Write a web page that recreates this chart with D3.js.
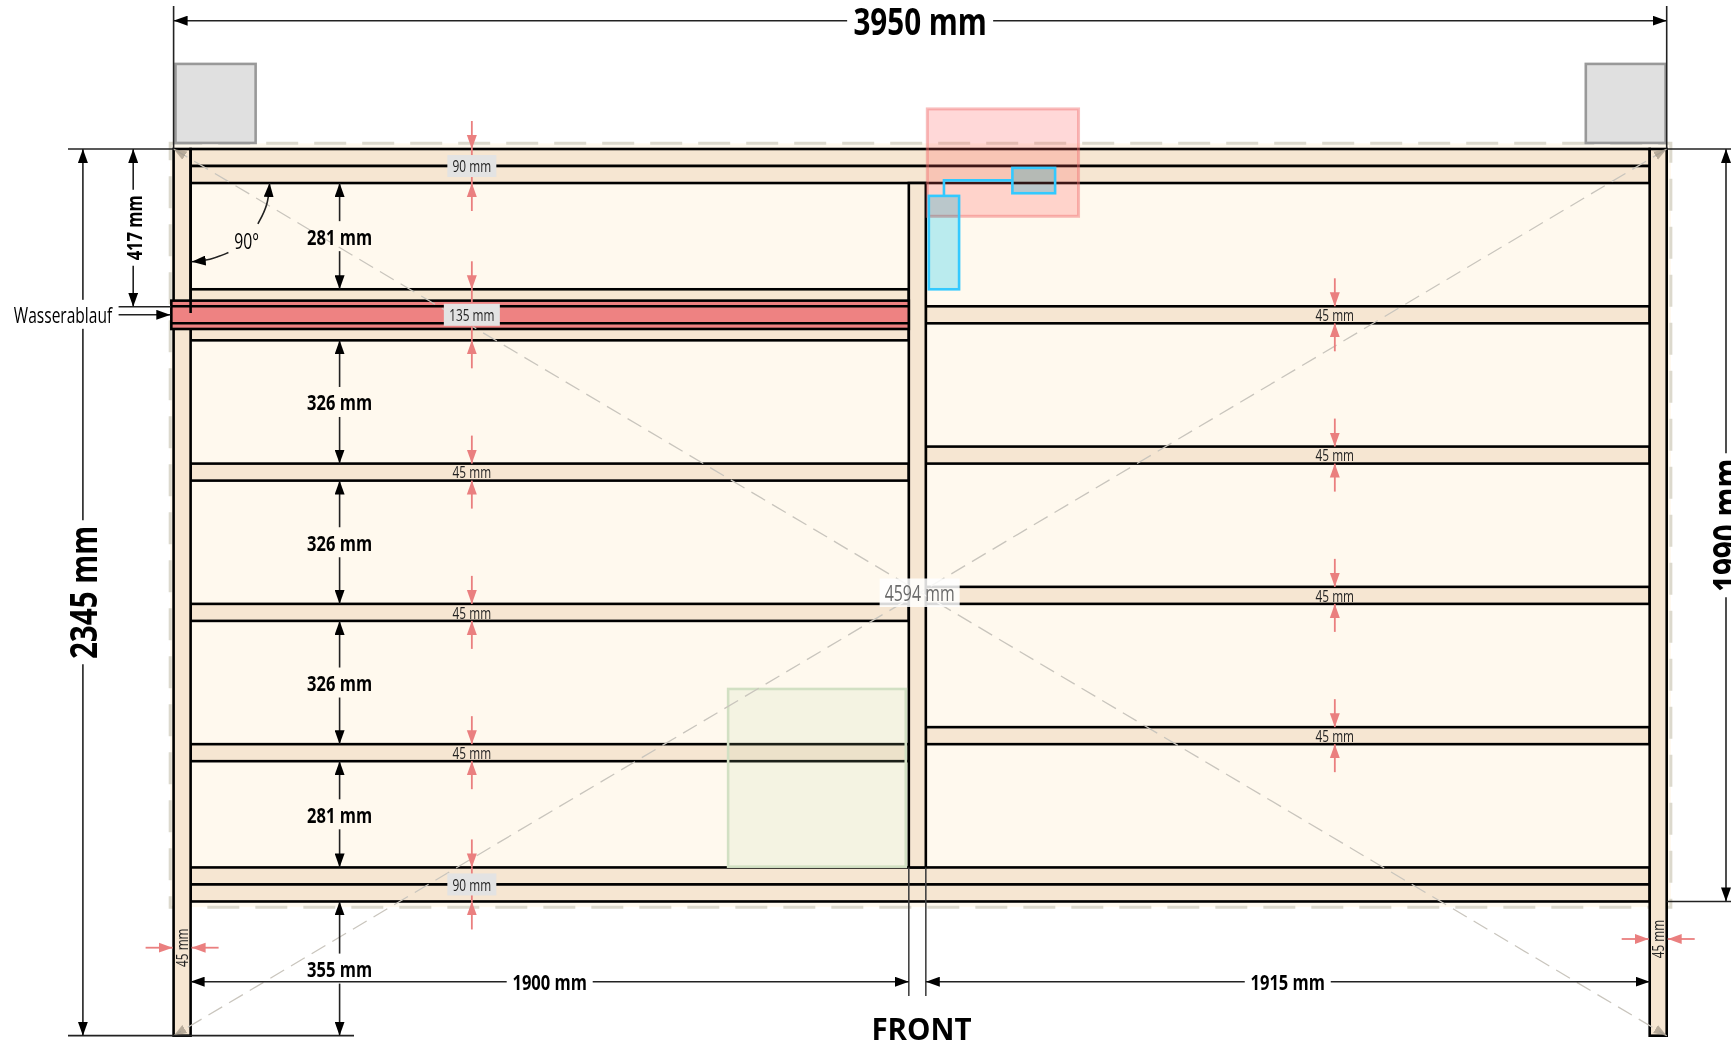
<!DOCTYPE html>
<html>
<head>
<meta charset="utf-8">
<script src="https://cdn.jsdelivr.net/npm/d3@7"></script>
<style>
  html, body { margin: 0; padding: 0; background: #fff; overflow: hidden; }
  svg { display: block; }
  text { font-family: "Open Sans", sans-serif; }
</style>
</head>
<body>
<svg id="chart" width="1731" height="1040"></svg>
<script>
// all values in mm
const totalWidth = 3950;
const totalHeight = 2345;
const beamBottom = 1990;
const board = 45;

const beamTops = [0, 45, 1900, 1945];
const leftShelfTops = [371, 416, 461, 832, 1203, 1574];
const rightShelfTops = [416, 787, 1158, 1529];
const centerPost = [1945, 1990];

const gapFrom = [90, 506, 877, 1248, 1619, 1990];
const gapTo = [371, 832, 1203, 1574, 1900, 2345];

const leftMarkFrom = [0, 371, 832, 1203, 1574, 1900];
const leftMarkTo = [90, 506, 877, 1248, 1619, 1990];
const rightMarkFrom = [416, 787, 1158, 1529];

const bottomLabels = ["1900 mm", "1915 mm"];
const bottomFrom = [45, 1990];
const bottomTo = [1945, 3905];

const diagonalLabel = "4594 mm";
const waterLabel = "Wasserablauf";
const frontLabel = "FRONT";
const angleLabel = "90°";
const drainDim = 417;

const pillarFrom = [5, 3736];
const pillarTo = [217, 3947];
const pillarTop = -225;
const pillarBottom = -16;

const pipe = [-6, 1945, 401, 476];
const pink = [1994, 2394, -106, 178];
const tankA = [1998, 2078, 124, 371];
const tankB = [2219, 2332, 50, 117];
const tankLink = [[2038, 124], [2038, 83], [2219, 83]];
const green = [1467, 1937, 1428, 1898];
const bounds = [-9, 3961, -15, 2005];

const arcTop = [[223, 198], [250, 148], [254, 90]];
const arcLeft = [[145, 274], [96, 294], [48, 298]];

const x = d3.scaleLinear().domain([0, totalWidth]).range([173.6, 1666.7]);
const y = d3.scaleLinear().domain([0, totalHeight]).range([149, 1035.7]);
const len = (mm) => x(mm) - x(0);

const svg = d3.select("#chart");
const BLACK = "#000";
const RED = "#ea7f7f";
const BLUE = "#33c9ff";
const LINE = 2.6;

const defs = svg.append("defs");
const marker = (id, color, w, h) => {
  defs.append("marker")
    .attr("id", id)
    .attr("viewBox", "0 0 14 10")
    .attr("refX", 14).attr("refY", 5)
    .attr("markerUnits", "userSpaceOnUse")
    .attr("markerWidth", w).attr("markerHeight", h)
    .attr("orient", "auto-start-reverse")
    .append("path")
    .attr("d", "M0,0L14,5L0,10Z")
    .attr("fill", color);
};
marker("arrow", BLACK, 14, 10);
marker("red", RED, 14, 11);
marker("diag", "rgba(150,140,125,0.65)", 13, 11);

const rectOf = (g, r) => g.append("rect")
  .attr("x", x(r[0])).attr("width", x(r[1]) - x(r[0]))
  .attr("y", y(r[2])).attr("height", y(r[3]) - y(r[2]));

const line = (g, x1, y1, x2, y2, color = BLACK, width = LINE) => g.append("line")
  .attr("x1", x1).attr("y1", y1).attr("x2", x2).attr("y2", y2)
  .attr("stroke", color).attr("stroke-width", width);

// condensed look: Open Sans squeezed horizontally
const label = (g, s, px, py, size, opts = {}) => {
  const rot = opts.rotate ? "rotate(-90)" : "";
  return g.append("text")
    .attr("transform", `translate(${px},${py}) ${rot} scale(${opts.squeeze || 0.75},1)`)
    .attr("text-anchor", "middle")
    .attr("dominant-baseline", "central")
    .attr("font-size", size)
    .attr("font-weight", opts.bold ? 700 : 400)
    .attr("fill", opts.color || BLACK)
    .text(s);
};

// background and outline
const base = svg.append("g");
rectOf(base, bounds)
  .attr("fill", "#fff9ee")
  .attr("stroke", "#dcd9cd")
  .attr("stroke-width", 3)
  .attr("stroke-dasharray", "32 16");

base.selectAll(".pillar")
  .data(pillarFrom)
  .join("rect")
  .attr("class", "pillar")
  .attr("x", (d) => x(d))
  .attr("width", (d, i) => x(pillarTo[i]) - x(d))
  .attr("y", y(pillarTop))
  .attr("height", y(pillarBottom) - y(pillarTop))
  .attr("fill", "#e0e0e0")
  .attr("stroke", "#999")
  .attr("stroke-width", 2.6);

// timber
const wood = svg.append("g")
  .attr("fill", "#f6e6d2")
  .attr("stroke", BLACK)
  .attr("stroke-width", LINE);

const boards = (tops, from, to) => tops.forEach((t) => {
  wood.append("rect")
    .attr("x", x(from)).attr("width", x(to) - x(from))
    .attr("y", y(t)).attr("height", y(t + board) - y(t));
});

boards(leftShelfTops, board, bottomTo[0]);
boards(rightShelfTops, centerPost[1], bottomTo[1]);
boards(beamTops, board, totalWidth - board);

wood.append("rect")
  .attr("x", x(centerPost[0])).attr("width", x(centerPost[1]) - x(centerPost[0]))
  .attr("y", y(90)).attr("height", y(1900) - y(90));
[0, totalWidth - board].forEach((d) => {
  wood.append("rect")
    .attr("x", x(d)).attr("width", len(board))
    .attr("y", y(0)).attr("height", y(totalHeight) - y(0));
});

// green area
rectOf(svg, green)
  .attr("fill", "rgba(180,210,160,0.15)")
  .attr("stroke", "#d2e0c3")
  .attr("stroke-width", 2.6);

// water pipe
rectOf(svg, pipe)
  .attr("fill", "#ee8282")
  .attr("stroke", BLACK)
  .attr("stroke-width", LINE);
[416, 461].forEach((d) => line(svg, x(pipe[0]), y(d), x(pipe[1]), y(d)));
line(svg, x(board), y(0), x(board), 313);

// pink zone and blue tanks
rectOf(svg, pink)
  .attr("fill", "rgba(255,90,90,0.24)")
  .attr("stroke", "rgba(240,110,110,0.45)")
  .attr("stroke-width", 3);

const tankFill = svg.append("g").style("mix-blend-mode", "multiply");
[tankA, tankB].forEach((t) => rectOf(tankFill, t).attr("fill", "#baf1ff"));
[tankA, tankB].forEach((t) => {
  rectOf(svg, t)
    .attr("fill", "none")
    .attr("stroke", BLUE)
    .attr("stroke-width", 2.6);
});
svg.append("path")
  .attr("d", d3.line().x((d) => x(d[0])).y((d) => y(d[1]))(tankLink))
  .attr("fill", "none")
  .attr("stroke", BLUE)
  .attr("stroke-width", 2.6);

// diagonals
const diag = svg.append("g");
[[0, totalWidth], [totalWidth, 0]].forEach(([a, b]) => {
  line(diag, x(a), y(0), x(b), y(totalHeight), "#c9c5bd", 1.3)
    .attr("stroke-dasharray", "16 8")
    .attr("marker-start", "url(#diag)")
    .attr("marker-end", "url(#diag)");
});
const mid = [x(totalWidth / 2) - 0.5, 592.5];
diag.append("rect")
  .attr("x", mid[0] - 40).attr("y", mid[1] - 14)
  .attr("width", 80).attr("height", 28.5)
  .attr("fill", "rgba(255,255,255,0.85)");
label(diag, diagonalLabel, mid[0], mid[1] + 0.5, 21.5, { color: "#6a6a6a", squeeze: 0.74 });

// dimension with a gap round its label
const dims = svg.append("g");
const DIM_COLOR = "#222";

const vDim = (px, y1, y2, text, size, gap, opts = {}) => {
  const c = opts.at || (y1 + y2) / 2;
  line(dims, px, c - gap, px, y1, DIM_COLOR, 1.6).attr("marker-end", "url(#arrow)");
  line(dims, px, c + gap, px, y2, DIM_COLOR, 1.6).attr("marker-end", "url(#arrow)");
  label(dims, text, px + (opts.dx || 0), c, size, {
    bold: true, rotate: opts.rotate, squeeze: opts.squeeze,
  });
};
const hDim = (py, x1, x2, text, size, gap, squeeze) => {
  const c = (x1 + x2) / 2;
  line(dims, c - gap, py, x1, py, DIM_COLOR, 1.6).attr("marker-end", "url(#arrow)");
  line(dims, c + gap, py, x2, py, DIM_COLOR, 1.6).attr("marker-end", "url(#arrow)");
  label(dims, text, c, py, size, { bold: true, squeeze });
};

// extension lines
line(dims, x(0), 6, x(0), y(0), "#222", 1.6);
line(dims, x(totalWidth), 6, x(totalWidth), y(0), "#222", 1.6);
line(dims, 68, y(0), x(0), y(0), "#222", 1.6);
line(dims, x(totalWidth), y(0), 1731, y(0), "#222", 1.6);
line(dims, x(totalWidth), y(beamBottom), 1731, y(beamBottom), "#222", 1.6);
line(dims, 68, y(totalHeight), 354, y(totalHeight), "#222", 1.8);
line(dims, 118.6, y(drainDim), 171, y(drainDim), "#222", 1.6);
centerPost.forEach((d) => line(dims, x(d), y(1900), x(d), 996, "#444", 1.6));

hDim(20.7, x(0), x(totalWidth), `${totalWidth} mm`, 37, 73, 0.8);
vDim(82.9, y(0), y(totalHeight), `${totalHeight} mm`, 37, 72, { rotate: true, squeeze: 0.8 });
vDim(1726, y(0), y(beamBottom), `${beamBottom} mm`, 37, 72, { rotate: true, squeeze: 0.8 });
vDim(133.2, y(0), y(drainDim), `${drainDim} mm`, 22, 38, { rotate: true });

gapFrom.forEach((d, i) => {
  vDim(339.6, y(d), y(gapTo[i]), `${gapTo[i] - d} mm`, 22, 15);
});
bottomLabels.forEach((d, i) => {
  hDim(981.7, x(bottomFrom[i]), x(bottomTo[i]), d, 22, 43);
});

// Wasserablauf callout
const waterY = y((pipe[2] + pipe[3]) / 2);
dims.append("rect")
  .attr("x", 10).attr("y", waterY - 15)
  .attr("width", 106).attr("height", 29)
  .attr("fill", "#fff");
label(dims, waterLabel, 63, waterY, 21, { squeeze: 0.74 });
line(dims, 118.6, waterY, x(pipe[0]) - 1, waterY, DIM_COLOR, 1.6).attr("marker-end", "url(#arrow)");

label(dims, frontLabel, 921.5, 1028, 29.5, { bold: true, squeeze: 1 });

// 90 degree angle mark
const arc = d3.line().x((d) => x(d[0])).y((d) => y(d[1])).curve(d3.curveBundle.beta(1));
[arcTop, arcLeft].forEach((a) => {
  dims.append("path")
    .attr("d", arc(a))
    .attr("fill", "none")
    .attr("stroke", DIM_COLOR)
    .attr("stroke-width", 1.6)
    .attr("marker-end", "url(#arrow)");
});
label(dims, angleLabel, x(193), y(241), 21);

// red thickness marks
const marks = svg.append("g");
const thickX = x(789);
const thickXRight = x(3072);
const redArrow = (x1, y1, x2, y2) => line(marks, x1, y1, x2, y2, RED, 1.8)
  .attr("marker-end", "url(#red)");

const thickness = (px, d1, d2, boxed) => {
  const y1 = y(d1), y2 = y(d2), c = (y1 + y2) / 2;
  redArrow(px, y1 - 28, px, y1);
  redArrow(px, y2 + 28, px, y2);
  const text = `${d2 - d1} mm`;
  if (boxed) {
    line(marks, px, y1, px, y2, RED, 1.8);
    const w = text.length > 5 ? 56 : 49;
    marks.append("rect")
      .attr("x", px - w / 2).attr("y", c - 11)
      .attr("width", w).attr("height", 22)
      .attr("fill", "#e3e3e3");
  }
  label(marks, text, px, c, 16, { color: "#222", squeeze: 0.74 });
};
leftMarkFrom.forEach((d, i) => {
  thickness(thickX, d, leftMarkTo[i], leftMarkTo[i] - d > board);
});
rightMarkFrom.forEach((d) => thickness(thickXRight, d, d + board, false));

// post thickness
const postMark = (d, py) => {
  const x1 = x(d), x2 = x(d + board);
  redArrow(x1 - 28, py, x1 - 1, py);
  redArrow(x2 + 28, py, x2 + 1, py);
  label(marks, `${board} mm`, (x1 + x2) / 2 - 0.5, py, 16, { rotate: true, color: "#222", squeeze: 0.74 });
};
postMark(0, 947.7);
postMark(totalWidth - board, 939);
</script>
</body>
</html>
